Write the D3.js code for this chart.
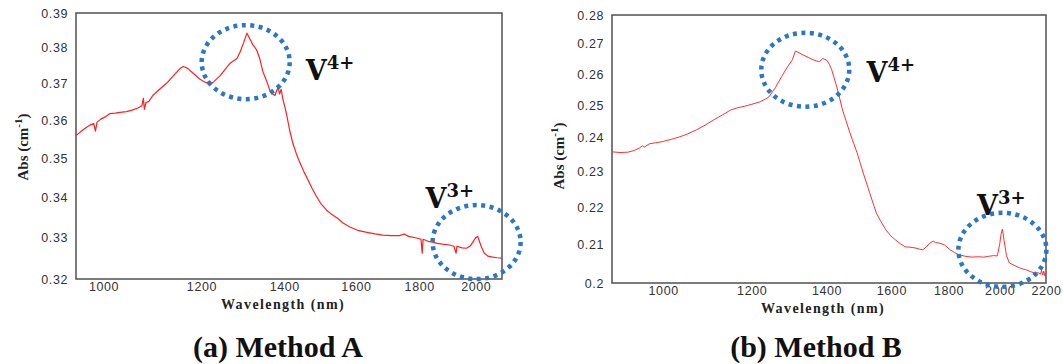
<!DOCTYPE html>
<html>
<head>
<meta charset="utf-8">
<script src="https://cdn.jsdelivr.net/npm/d3@7"></script>
<style>
  body { margin: 0; background: #fff; }
  svg { display: block; }
</style>
</head>
<body>
<div id="chart"></div>
<script>
// Method A spectrum (nm, Abs)
const waveA = [950, 962, 975, 982, 985, 988, 995, 1003, 1012, 1022, 1031, 1044, 1056, 1066, 1074, 1077, 1079, 1082, 1088, 1096,
  1110, 1125, 1140, 1153, 1160, 1166, 1172, 1179, 1188, 1196, 1204, 1212, 1218, 1222, 1228, 1242, 1254, 1265, 1274, 1282,
  1290, 1298, 1306, 1312, 1320, 1330, 1338, 1345, 1354, 1363, 1370, 1376, 1380, 1384, 1388, 1392, 1396, 1402, 1407, 1414,
  1422, 1432, 1441, 1452, 1463, 1475, 1487, 1500, 1515, 1530, 1544, 1562, 1582, 1605, 1633, 1658, 1682, 1710, 1735, 1750,
  1765, 1791, 1806, 1810, 1813, 1830, 1845, 1862, 1880, 1904, 1920, 1928, 1931, 1950, 1966, 1980, 1990, 2000, 2007, 2014,
  2022, 2032, 2045, 2060, 2080, 2100];
const absA = [0.3560, 0.3575, 0.3588, 0.3592, 0.3572, 0.3596, 0.3604, 0.3610, 0.3619, 0.3620, 0.3622, 0.3624, 0.3629, 0.3634, 0.3640, 0.3660, 0.3630, 0.3648, 0.3652, 0.3668,
  0.3685, 0.3702, 0.3724, 0.3742, 0.3748, 0.3745, 0.3740, 0.3732, 0.3722, 0.3713, 0.3707, 0.3702, 0.3708, 0.3700, 0.3706, 0.3722, 0.3740, 0.3756, 0.3764, 0.3770,
  0.3790, 0.3815, 0.3842, 0.3828, 0.3810, 0.3794, 0.3768, 0.3735, 0.3710, 0.3682, 0.3672, 0.3668, 0.3680, 0.3690, 0.3672, 0.3685, 0.3660, 0.3635, 0.3612, 0.3575,
  0.3542, 0.3512, 0.3490, 0.3466, 0.3445, 0.3422, 0.3402, 0.3383, 0.3368, 0.3357, 0.3349, 0.3336, 0.3326, 0.3318, 0.3313, 0.3309, 0.3306, 0.3305, 0.3305, 0.3309,
  0.3303, 0.3299, 0.3296, 0.3262, 0.3296, 0.3291, 0.3289, 0.3286, 0.3284, 0.3282, 0.3279, 0.3262, 0.3279, 0.3275, 0.3274, 0.3280, 0.3290, 0.3300, 0.3303, 0.3290,
  0.3276, 0.3262, 0.3255, 0.3253, 0.3251, 0.3250];

// Method B spectrum (nm, Abs)
const waveB = [900, 915, 930, 942, 953, 958, 962, 972, 985, 1000, 1018, 1035, 1052, 1071, 1090, 1109, 1130, 1149, 1165, 1183,
  1200, 1221, 1235, 1243, 1260, 1276, 1290, 1305, 1313, 1320, 1334, 1348, 1362, 1372, 1380, 1389, 1395, 1401, 1408, 1415,
  1430, 1447, 1469, 1491, 1510, 1530, 1551, 1566, 1582, 1598, 1614, 1630, 1646, 1662, 1680, 1695, 1707, 1720, 1730, 1744,
  1752, 1765, 1785, 1806, 1822, 1840, 1865, 1889, 1912, 1935, 1953, 1975, 1990, 2000, 2005, 2011, 2018, 2028, 2040, 2060,
  2077, 2095, 2113, 2130, 2150, 2165, 2175, 2180, 2185, 2190, 2195, 2200];
const absB = [0.2358, 0.2356, 0.2357, 0.2362, 0.2370, 0.2376, 0.2372, 0.2382, 0.2385, 0.2389, 0.2396, 0.2403, 0.2412, 0.2424, 0.2438, 0.2454, 0.2470, 0.2485, 0.2492, 0.2497,
  0.2503, 0.2511, 0.2520, 0.2526, 0.2556, 0.2591, 0.2620, 0.2647, 0.2676, 0.2672, 0.2663, 0.2655, 0.2647, 0.2643, 0.2641, 0.2651, 0.2648, 0.2645, 0.2632, 0.2614,
  0.2558, 0.2485, 0.2415, 0.2355, 0.2296, 0.2240, 0.2184, 0.2160, 0.2138, 0.2122, 0.2111, 0.2101, 0.2093, 0.2092, 0.2090, 0.2087, 0.2085, 0.2093, 0.2102, 0.2108,
  0.2104, 0.2103, 0.2098, 0.2085, 0.2078, 0.2072, 0.2068, 0.2066, 0.2067, 0.2066, 0.2068, 0.2070, 0.2069, 0.2100, 0.2125, 0.2140, 0.2110, 0.2070, 0.2051, 0.2045,
  0.2040, 0.2036, 0.2033, 0.2029, 0.2025, 0.2026, 0.2022, 0.2032, 0.2020, 0.2030, 0.2018, 0.2025];

const xTicksA = [1000, 1200, 1400, 1600, 1800, 2000];
const yTicksA = [0.32, 0.33, 0.34, 0.35, 0.36, 0.37, 0.38, 0.39];
const xTicksB = [1000, 1200, 1400, 1600, 1800, 2000, 2200];
const yTicksB = [0.2, 0.21, 0.22, 0.23, 0.24, 0.25, 0.26, 0.27, 0.28];

// annotation circles and labels, in data units
const ringsA = [{ x: 1303, y: 0.376 }, { x: 2003, y: 0.3289 }];
const labelsA = [{ x: 1457, y: 0.371, sup: '4+' }, { x: 1821, y: 0.3373, sup: '3+' }];
const ringsB = [{ x: 1340, y: 0.2614 }, { x: 2011, y: 0.2085 }];
const labelsB = [{ x: 1520, y: 0.2574, sup: '4+' }, { x: 1909, y: 0.2178, sup: '3+' }];

const svg = d3.select('#chart').append('svg')
  .attr('width', 1063)
  .attr('height', 364);

function drawPanel(p) {
  const x = d3.scaleLog().domain(p.xDomain).range([p.left, p.right]);
  const y = d3.scaleLog().domain(p.yDomain).range([p.bottom, p.top]);
  const g = svg.append('g');

  // y axis labels
  const yAxis = g.append('g')
    .attr('transform', 'translate(' + p.left + ',0)')
    .call(d3.axisLeft(y).tickValues(p.yTicks).tickSize(0).tickPadding(8)
      .tickFormat(d => String(+d.toFixed(2))));
  yAxis.select('.domain').remove();
  yAxis.selectAll('text')
    .style('font-family', 'Arial, "Liberation Sans", sans-serif')
    .style('font-size', '12.5px')
    .style('letter-spacing', '0.6px')
    .attr('fill', '#333');

  // x axis labels
  const xAxis = g.append('g')
    .attr('transform', 'translate(0,' + p.bottom + ')')
    .call(d3.axisBottom(x).tickValues(p.xTicks).tickSize(0).tickPadding(3)
      .tickFormat(d3.format('d')));
  xAxis.select('.domain').remove();
  xAxis.selectAll('text')
    .style('font-family', 'Arial, "Liberation Sans", sans-serif')
    .style('font-size', '12.5px')
    .style('letter-spacing', '0.6px')
    .attr('fill', '#333');

  // plot frame
  g.append('rect')
    .attr('x', p.left)
    .attr('y', p.top)
    .attr('width', p.right - p.left)
    .attr('height', p.bottom - p.top)
    .attr('fill', 'none')
    .attr('stroke', '#505050')
    .attr('stroke-width', 1.5);

  // spectrum
  const line = d3.line()
    .x((d, i) => x(p.wave[i]))
    .y(d => y(d));
  g.append('path')
    .datum(p.abs)
    .attr('d', line)
    .attr('fill', 'none')
    .attr('stroke', p.lineColor)
    .attr('stroke-width', p.lineWidth)
    .attr('stroke-linejoin', 'round');

  // axis titles
  g.append('text')
    .attr('x', (p.left + p.right) / 2 - 6)
    .attr('y', p.bottom + 30)
    .attr('text-anchor', 'middle')
    .style('font-family', '"Liberation Serif", "Times New Roman", serif')
    .style('font-weight', 'bold')
    .style('font-size', '14px')
    .style('letter-spacing', '1.4px')
    .attr('fill', '#222')
    .text('Wavelength (nm)');

  const yt = g.append('text')
    .attr('transform', 'translate(' + (p.left - 48) + ',' + p.yTitleMid + ') rotate(-90)')
    .attr('text-anchor', 'middle')
    .style('font-family', '"Liberation Serif", "Times New Roman", serif')
    .style('font-weight', 'bold')
    .style('font-size', '15px')
    .attr('fill', '#222');
  yt.append('tspan').text('Abs (cm');
  yt.append('tspan').attr('dy', -6).style('font-size', '11px').text('-1');
  yt.append('tspan').attr('dy', 6).text(')');

  // caption
  g.append('text')
    .attr('x', p.captionX)
    .attr('y', 357)
    .attr('text-anchor', 'middle')
    .style('font-family', '"Liberation Serif", "Times New Roman", serif')
    .style('font-weight', 'bold')
    .style('font-size', '30px')
    .attr('fill', '#111')
    .text(p.caption);

  // dotted rings
  g.selectAll('.ring')
    .data(p.rings)
    .enter().append('ellipse')
    .attr('class', 'ring')
    .attr('cx', d => x(d.x))
    .attr('cy', d => y(d.y))
    .attr('rx', 44)
    .attr('ry', 37)
    .attr('fill', 'none')
    .attr('stroke', '#2a78c4')
    .attr('stroke-width', 4.5)
    .attr('stroke-dasharray', '4 4.5');

  // V labels
  const lab = g.selectAll('.vlab')
    .data(p.labels)
    .enter().append('text')
    .attr('class', 'vlab')
    .attr('x', d => x(d.x))
    .attr('y', d => y(d.y))
    .style('font-family', '"DejaVu Serif", serif')
    .style('font-weight', 'bold')
    .style('font-size', '27px')
    .attr('fill', '#111');
  lab.append('tspan').text('V');
  lab.append('tspan').attr('dy', -11).style('font-size', '18px').text(d => d.sup);
}

drawPanel({
  wave: waveA, abs: absA, xTicks: xTicksA, yTicks: yTicksA,
  xDomain: [950, 2100], yDomain: [0.32, 0.39],
  left: 76, right: 502, top: 13, bottom: 279,
  yTitleMid: 147, captionX: 278, caption: '(a) Method A',
  lineColor: '#ff1f1f', lineWidth: 1.2,
  rings: ringsA, labels: labelsA
});

drawPanel({
  wave: waveB, abs: absB, xTicks: xTicksB, yTicks: yTicksB,
  xDomain: [900, 2200], yDomain: [0.2, 0.28],
  left: 612, right: 1046, top: 15, bottom: 283,
  yTitleMid: 156, captionX: 816, caption: '(b) Method B',
  lineColor: '#ff3030', lineWidth: 1,
  rings: ringsB, labels: labelsB
});
</script>
</body>
</html>
